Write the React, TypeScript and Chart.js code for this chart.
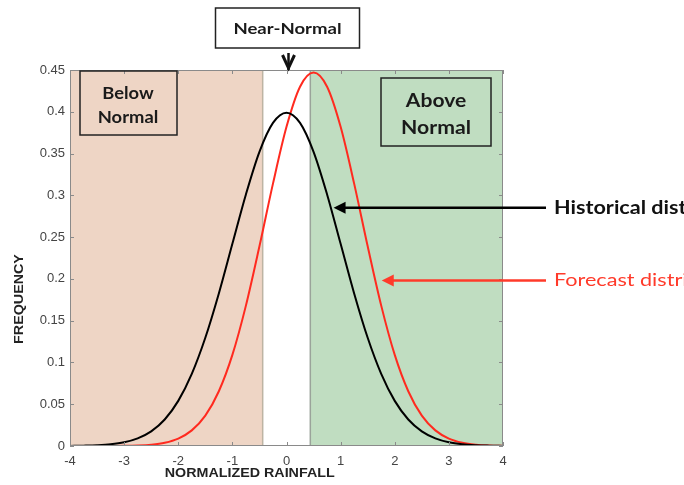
import React, { useEffect, useRef } from "react";
import { Chart, registerables } from "chart.js";

Chart.register(...registerables);

const rainfall = [-4, -3.75, -3.5, -3.25, -3, -2.75, -2.5, -2.25, -2, -1.75, -1.5, -1.25, -1, -0.75, -0.5, -0.25, 0, 0.25, 0.5, 0.75, 1, 1.25, 1.5, 1.75, 2, 2.25, 2.5, 2.75, 3, 3.25, 3.5, 3.75, 4];
const historical = [0.0001, 0.0004, 0.0009, 0.002, 0.0044, 0.0091, 0.0175, 0.0317, 0.054, 0.0863, 0.1295, 0.1826, 0.242, 0.3011, 0.3521, 0.3867, 0.3989, 0.3867, 0.3521, 0.3011, 0.242, 0.1826, 0.1295, 0.0863, 0.054, 0.0317, 0.0175, 0.0091, 0.0044, 0.002, 0.0009, 0.0004, 0.0001];
const forecast = [0, 0, 0, 0.0001, 0.0002, 0.0006, 0.0016, 0.0039, 0.0089, 0.0187, 0.0363, 0.0655, 0.109, 0.168, 0.239, 0.314, 0.382, 0.43, 0.447, 0.43, 0.382, 0.314, 0.239, 0.168, 0.109, 0.0655, 0.0363, 0.0187, 0.0089, 0.0039, 0.0016, 0.0006, 0.0002];
const xTicks = [-4, -3, -2, -1, 0, 1, 2, 3, 4];
const yTicks = [0, 0.05, 0.1, 0.15, 0.2, 0.25, 0.3, 0.35, 0.4, 0.45];
const belowBoundary = -0.44;
const aboveBoundary = 0.44;
const historicalArrow = { x: 0.87, y: 0.285 };
const forecastArrow = { x: 1.76, y: 0.198 };

const LABEL_FONT = "Lato, 'Open Sans', sans-serif";
const AXIS_FONT = "Arial, 'Liberation Sans', sans-serif";

function arrowHead(ctx: CanvasRenderingContext2D, x: number, y: number, color: string) {
  ctx.fillStyle = color;
  ctx.beginPath();
  ctx.moveTo(x, y);
  ctx.lineTo(x + 12, y - 6);
  ctx.lineTo(x + 12, y + 6);
  ctx.closePath();
  ctx.fill();
}

function stretchText(ctx: CanvasRenderingContext2D, text: string, x: number, y: number, sx: number) {
  ctx.save();
  ctx.translate(x, y);
  ctx.scale(sx, 1);
  ctx.fillText(text, 0, 0);
  ctx.restore();
}

const decorPlugin = {
  id: "decor",
  beforeDatasetsDraw(chart: any) {
    const { ctx, chartArea: a, scales } = chart;
    const xs = scales.x;
    const bx = xs.getPixelForValue(belowBoundary);
    const ax = xs.getPixelForValue(aboveBoundary);
    ctx.save();
    ctx.fillStyle = "rgb(238,213,197)";
    ctx.fillRect(a.left, a.top, bx - a.left, a.bottom - a.top);
    ctx.fillStyle = "rgb(192,221,193)";
    ctx.fillRect(ax, a.top, a.right - ax, a.bottom - a.top);
    ctx.lineWidth = 1.5;
    ctx.strokeStyle = "#bdb4a3";
    ctx.beginPath();
    ctx.moveTo(bx, a.top);
    ctx.lineTo(bx, a.bottom);
    ctx.stroke();
    ctx.strokeStyle = "#9aa39a";
    ctx.beginPath();
    ctx.moveTo(ax, a.top);
    ctx.lineTo(ax, a.bottom);
    ctx.stroke();
    ctx.restore();
  },
  afterDatasetsDraw(chart: any) {
    const { ctx, chartArea: a, scales } = chart;
    const xs = scales.x;
    const ys = scales.y;
    ctx.save();
    // axes box
    ctx.strokeStyle = "#8a8a8a";
    ctx.lineWidth = 1;
    ctx.strokeRect(a.left + 0.5, a.top + 0.5, a.right - a.left - 1, a.bottom - a.top - 1);
    // inward ticks
    ctx.beginPath();
    xTicks.forEach((v) => {
      const px = Math.round(xs.getPixelForValue(v)) + 0.5;
      ctx.moveTo(px, a.bottom);
      ctx.lineTo(px, a.bottom - 4);
      ctx.moveTo(px, a.top);
      ctx.lineTo(px, a.top + 4);
    });
    yTicks.forEach((v) => {
      const py = Math.round(ys.getPixelForValue(v)) + 0.5;
      ctx.moveTo(a.left, py);
      ctx.lineTo(a.left + 4, py);
      ctx.moveTo(a.right, py);
      ctx.lineTo(a.right - 4, py);
    });
    ctx.stroke();

    // Near-Normal box
    const cx = xs.getPixelForValue(0);
    ctx.fillStyle = "#ffffff";
    ctx.fillRect(cx - 71, 8, 144, 40);
    ctx.strokeStyle = "#222";
    ctx.lineWidth = 1.5;
    ctx.strokeRect(cx - 71, 8, 144, 40);
    ctx.fillStyle = "#1a1a1a";
    ctx.font = `bold 16px ${LABEL_FONT}`;
    ctx.textAlign = "center";
    ctx.textBaseline = "middle";
    stretchText(ctx, "Near-Normal", cx + 1, 29, 1.16);
    // down arrow
    const axp = cx + 2;
    ctx.strokeStyle = "#111";
    ctx.lineWidth = 2.5;
    ctx.beginPath();
    ctx.moveTo(axp, 53);
    ctx.lineTo(axp, a.top);
    ctx.stroke();
    ctx.lineWidth = 3;
    ctx.beginPath();
    ctx.moveTo(axp - 6, 55);
    ctx.lineTo(axp, a.top - 2);
    ctx.lineTo(axp + 6, 55);
    ctx.stroke();

    // Below Normal box
    ctx.lineWidth = 1.5;
    ctx.strokeStyle = "#222";
    ctx.strokeRect(a.left + 10, a.top + 1, 97, 64);
    ctx.fillStyle = "#1a1a1a";
    ctx.font = `bold 17px ${LABEL_FONT}`;
    stretchText(ctx, "Below", a.left + 58, 94, 1.08);
    stretchText(ctx, "Normal", a.left + 58, 118, 1.08);

    // Above Normal box
    ctx.strokeRect(a.right - 122, a.top + 8, 110, 68);
    ctx.font = `bold 18px ${LABEL_FONT}`;
    stretchText(ctx, "Above", a.right - 67, 101, 1.17);
    stretchText(ctx, "Normal", a.right - 67, 128, 1.18);

    // Historical arrow
    const hx = xs.getPixelForValue(historicalArrow.x);
    const hy = ys.getPixelForValue(historicalArrow.y);
    ctx.strokeStyle = "#000";
    ctx.lineWidth = 2.5;
    ctx.beginPath();
    ctx.moveTo(hx + 8, hy);
    ctx.lineTo(546, hy);
    ctx.stroke();
    arrowHead(ctx, hx, hy, "#000");
    ctx.textAlign = "left";
    ctx.fillStyle = "#111";
    ctx.font = `bold 18px ${LABEL_FONT}`;
    stretchText(ctx, "Historical distribution", 554, hy, 1.2);

    // Forecast arrow
    const fx = xs.getPixelForValue(forecastArrow.x);
    const fy = ys.getPixelForValue(forecastArrow.y);
    ctx.strokeStyle = "#ff3a2a";
    ctx.beginPath();
    ctx.moveTo(fx + 8, fy);
    ctx.lineTo(546, fy);
    ctx.stroke();
    arrowHead(ctx, fx, fy, "#ff3a2a");
    ctx.fillStyle = "#ff3a2a";
    ctx.font = `18px ${LABEL_FONT}`;
    stretchText(ctx, "Forecast distribution", 554, fy, 1.2);

    // Axis titles
    ctx.fillStyle = "#222";
    ctx.font = `bold 13px ${AXIS_FONT}`;
    ctx.textAlign = "center";
    stretchText(ctx, "NORMALIZED RAINFALL", xs.getPixelForValue(-0.68), 473, 1.1);
    ctx.translate(19, 299);
    ctx.rotate(-Math.PI / 2);
    stretchText(ctx, "FREQUENCY", 0, 0, 1.1);
    ctx.restore();
  },
};

export default function App() {
  const ref = useRef<HTMLCanvasElement | null>(null);
  useEffect(() => {
    if (!ref.current) return;
    const chart = new Chart(ref.current, {
      type: "line",
      data: {
        datasets: [
          {
            label: "Historical distribution",
            data: rainfall.map((x, i) => ({ x, y: historical[i] })),
            borderColor: "#000000",
            borderWidth: 2,
            pointRadius: 0,
            cubicInterpolationMode: "monotone",
          },
          {
            label: "Forecast distribution",
            data: rainfall.map((x, i) => ({ x, y: forecast[i] })),
            borderColor: "#ff2a1f",
            borderWidth: 2,
            pointRadius: 0,
            cubicInterpolationMode: "monotone",
          },
        ],
      },
      options: {
        responsive: false,
        animation: false,
        layout: { padding: { top: 70, right: 181, left: 0, bottom: 0 } },
        plugins: { legend: { display: false }, tooltip: { enabled: false } },
        scales: {
          x: {
            type: "linear",
            min: -4,
            max: 4,
            afterFit: (s: any) => { s.height = 39; },
            afterBuildTicks: (s: any) => { s.ticks = xTicks.map((v) => ({ value: v })); },
            grid: { display: false, drawTicks: false },
            border: { display: false },
            ticks: { padding: 8, color: "#444", font: { family: AXIS_FONT, size: 13 } },
          },
          y: {
            type: "linear",
            min: 0,
            max: 0.45,
            afterFit: (s: any) => { s.width = 70; },
            afterBuildTicks: (s: any) => { s.ticks = yTicks.map((v) => ({ value: v })); },
            grid: { display: false, drawTicks: false },
            border: { display: false },
            ticks: {
              padding: 5,
              color: "#444",
              font: { family: AXIS_FONT, size: 13 },
              callback: (v: any) => String(Number(Number(v).toFixed(2))),
            },
          },
        },
      },
      plugins: [decorPlugin],
    });
    return () => chart.destroy();
  }, []);
  return (
    <div style={{ position: "fixed", left: 0, top: 0, width: 684, height: 485, background: "#fff" }}>
      <canvas ref={ref} width={684} height={485} />
    </div>
  );
}
